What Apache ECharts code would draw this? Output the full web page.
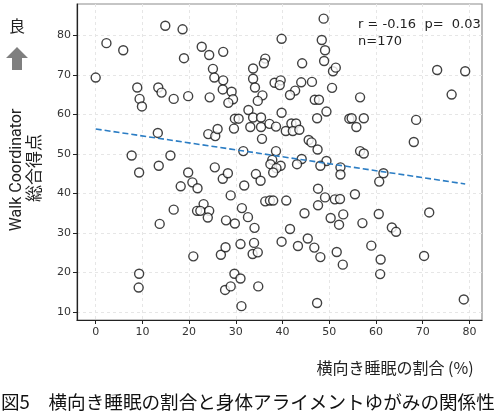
<!DOCTYPE html>
<html>
<head>
<meta charset="utf-8">
<script src="https://cdn.jsdelivr.net/npm/echarts@6/dist/echarts.min.js"></script>
<style>
html,body{margin:0;padding:0;background:#fff;}
#c{width:502px;height:414px;}
</style>
</head>
<body>
<div id="c"></div>
<script>
// Side-sleep ratio (%) and Walk Coordinator total score
var sidePct = [
 0,2.3,5.9,14.9,18.6,22.7,24.3,18.9,25.1,25.4,8.9,13.4,14.1,9.4,9.9,16.7,19.8,24.4,13.3,24.1,
 25.6,26.1,7.7,16.0,13.5,27.3,27.3,27.2,29.1,29.4,28.4,33.7,33.7,34.1,36.3,36.0,38.3,35.7,34.7,32.7,
 29.8,30.6,29.6,33.7,35.4,33.1,35.4,37.2,38.6,35.6,31.6,38.6,37.8,37.4,39.6,38.7,38.0,25.5,48.8,39.8,
 48.4,49.1,39.6,39.4,44.2,44.0,46.3,42.7,41.6,48.9,50.8,51.4,50.6,46.9,47.8,49.4,39.8,47.4,40.7,41.9,
 42.9,42.2,43.6,45.6,46.2,47.5,54.3,44.1,43.1,49.4,48.1,56.6,54.8,57.4,55.8,68.6,73.1,79.1,76.2,68.1,
 56.6,57.4,52.4,9.3,19.8,20.7,21.8,18.2,27.2,28.3,31.8,34.3,35.3,28.9,23.1,21.7,22.4,24.3,24.0,16.7,
 13.7,27.9,29.8,31.3,32.6,34.0,36.3,37.3,38.0,20.9,26.8,27.8,31.0,33.9,33.6,34.7,9.3,9.2,29.7,31.0,
 27.7,28.9,34.8,31.2,39.8,40.8,41.6,44.7,43.3,45.4,46.8,48.1,47.6,49.1,47.6,51.2,52.3,50.3,52.1,53.0,
 51.6,52.9,47.4,52.4,61.6,60.7,55.5,57.1,60.6,63.4,64.3,71.4,59.0,61.0,60.9,70.3,78.8
];
var walkScore = [
 69.3,78.0,76.2,82.4,81.5,77.1,75.0,74.2,71.5,69.3,66.8,66.8,65.5,63.9,62.0,63.9,64.6,64.3,55.3,55.0,
 54.5,56.3,49.6,49.6,47.0,75.8,68.6,66.3,65.7,63.8,62.9,71.6,69.0,66.8,74.1,72.9,68.0,64.8,63.4,61.1,
 58.9,58.9,56.4,59.2,59.2,56.8,56.8,57.6,56.9,53.8,50.7,50.7,48.5,47.4,47.0,46.4,45.3,46.6,84.2,79.1,
 78.8,76.2,68.6,67.4,72.9,68.1,68.2,66.0,64.9,73.5,70.9,71.8,66.7,63.7,63.7,60.7,60.4,59.0,55.8,57.7,
 57.7,55.8,56.1,53.5,52.9,51.1,58.9,48.7,47.4,48.2,47.0,64.3,59.0,59.0,56.8,58.6,71.2,70.9,65.0,53.0,
 50.7,50.1,46.6,45.3,45.3,42.8,41.3,41.8,43.7,45.1,42.0,44.9,43.2,39.5,37.3,35.6,35.6,35.6,33.9,35.9,
 32.3,33.2,32.4,36.3,34.0,31.3,38.0,38.2,38.2,24.1,24.5,26.4,27.2,27.5,24.7,25.1,19.7,16.2,19.7,18.5,
 15.6,16.5,16.5,11.5,27.8,38.2,31.0,35.0,26.7,28.6,26.3,23.9,41.2,39.0,37.0,38.5,38.6,33.8,32.1,34.7,
 25.2,22.0,12.3,44.8,45.1,43.0,39.8,32.5,34.8,31.4,30.3,35.2,26.8,23.3,19.6,24.2,13.2
];
// Regression line end points
var regX = [0, 79.1];
var regY = [56.3, 42.4];
var xTicks = [0,10,20,30,40,50,60,70,80];
var yTicks = [10,20,30,40,50,60,70,80];
var statText = ['r = -0.16  p=  0.03', 'n=170'];
var xName = '横向き睡眠の割合 (%)';
var yName1 = 'Walk Coordinator';
var yName2 = '総合得点';
var goodText = '良';
var caption = '図5　横向き睡眠の割合と身体アライメントゆがみの関係性';

var pts = sidePct.map(function(x,i){return [x, walkScore[i]];});
var reg = regX.map(function(x,i){return [x, regY[i]];});

var chart = echarts.init(document.getElementById('c'), null, {renderer:'canvas'});
var numFont = 'DejaVu Sans';
var jpFont = '"Noto Sans CJK JP", "Noto Sans", sans-serif';
chart.setOption({
  animation:false,
  backgroundColor:'#fff',
  grid:{left:77, right:20, top:4, bottom:94, show:true, borderColor:'#8c8c8c', borderWidth:1.2, containLabel:false},
  xAxis:{
    type:'value', min:-4, max:82.7,
    axisLine:{show:true, onZero:false, lineStyle:{color:'#222', width:1.2}},
    axisTick:{show:true, length:4, customValues:xTicks, lineStyle:{color:'#222'}},
    axisLabel:{customValues:xTicks, color:'#333', fontSize:11, fontFamily:numFont, margin:7},
    splitLine:{show:true, lineStyle:{color:'#e6e6e6', type:[3,3], width:1}}
  },
  yAxis:{
    type:'value', min:8, max:87.9,
    axisLine:{show:true, onZero:false, lineStyle:{color:'#222', width:1.2}},
    axisTick:{show:true, length:4, customValues:yTicks, lineStyle:{color:'#222'}},
    axisLabel:{customValues:yTicks, color:'#333', fontSize:11, fontFamily:numFont, margin:6},
    splitLine:{show:true, lineStyle:{color:'#e6e6e6', type:[3,3], width:1}}
  },
  series:[
    {type:'scatter', data:pts, symbol:'circle', symbolSize:9, z:3,
     itemStyle:{color:'#fff', borderColor:'#111', borderWidth:1.4}},
    {type:'line', data:reg, symbol:'none', z:4,
     lineStyle:{color:'#2b7dc4', width:1.6, type:[6,3]}}
  ],
  graphic:[
    {type:'text', left:358, top:18, style:{text:statText[0], font:'13px '+numFont, fill:'#222'}},
    {type:'text', left:358, top:35, style:{text:statText[1], font:'13px '+numFont, fill:'#222'}},
    {type:'text', x:395, y:368, style:{text:xName, font:'16px '+jpFont, fill:'#222', align:'center', verticalAlign:'middle'}},
    {type:'text', x:1, y:402, style:{text:caption, font:'18.6px '+jpFont, fill:'#111', align:'left', verticalAlign:'middle'}},
    {type:'text', x:17, y:26, style:{text:goodText, font:'16px '+jpFont, fill:'#222', align:'center', verticalAlign:'middle'}},
    {type:'polygon', shape:{points:[[17,47],[28,58],[22,58],[22,70],[12,70],[12,58],[6,58]]}, style:{fill:'#7f7f7f'}},
    {type:'text', x:17, y:170, rotation:Math.PI/2, style:{text:yName1, font:'16px Roboto, "DejaVu Sans", sans-serif', fill:'#222', align:'center', verticalAlign:'middle'}},
    {type:'text', x:34, y:168, rotation:Math.PI/2, style:{text:yName2, font:'17px '+jpFont, fill:'#222', align:'center', verticalAlign:'middle'}}
  ]
});
</script>
</body>
</html>
